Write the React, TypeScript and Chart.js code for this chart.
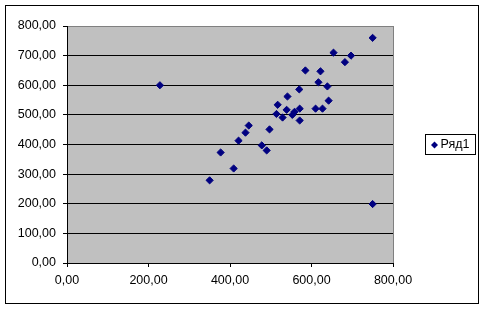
import React, { useEffect, useRef } from "react";
import { Chart, registerables } from "chart.js";
Chart.register(...registerables);

const seriesName = "Ряд1";
const xValues = [228, 750, 654, 697, 682, 585, 622, 617, 639, 570, 642, 541, 517, 539, 571, 610, 627, 514, 529, 553, 558, 571, 497, 446, 438, 421, 478, 490, 377, 409, 350, 750];
const yValues = [600, 760, 710, 700, 678, 650, 647, 610, 596, 586, 548, 562, 534, 517, 521, 521, 521, 503, 491, 500, 510, 481, 451, 464, 440, 413, 397, 380, 373, 319, 279, 199];
const xTicks = [0, 200, 400, 600, 800];
const yTicks = [0, 100, 200, 300, 400, 500, 600, 700, 800];

const fmt = (v: number) => Number(v).toFixed(2).replace(".", ",");
const FONT = "'Liberation Sans', Arial, sans-serif";
const FS = 12.5;
const MARK = "#000080";

export default function App() {
  const ref = useRef<HTMLCanvasElement>(null);
  useEffect(() => {
    if (!ref.current) return;
    const plotPlugin = {
      id: "plotBg",
      beforeDraw(chart: any) {
        const { ctx, chartArea: a } = chart;
        ctx.save();
        ctx.fillStyle = "#ffffff";
        ctx.fillRect(0, 0, chart.width, chart.height);
        ctx.fillStyle = "#C0C0C0";
        ctx.fillRect(a.left, a.top, a.right - a.left, a.bottom - a.top);
        ctx.restore();
      },
      beforeDatasetsDraw(chart: any) {
        const { ctx, chartArea: a } = chart;
        ctx.save();
        ctx.strokeStyle = "#808080";
        ctx.lineWidth = 1;
        ctx.beginPath();
        const rx = Math.round(a.right) + 0.5;
        ctx.moveTo(rx, a.top);
        ctx.lineTo(rx, a.bottom);
        ctx.stroke();
        ctx.restore();
      },
      afterDraw(chart: any) {
        const { ctx } = chart;
        ctx.save();
        ctx.strokeStyle = "#000000";
        ctx.lineWidth = 1;
        ctx.strokeRect(5.5, 5.5, 473, 298);
        // legend
        ctx.strokeRect(425.5, 134.5, 50, 20);
        ctx.fillStyle = MARK;
        const cx = 434.5, cy = 145;
        ctx.beginPath();
        ctx.moveTo(cx, cy - 3.5);
        ctx.lineTo(cx + 3.5, cy);
        ctx.lineTo(cx, cy + 3.5);
        ctx.lineTo(cx - 3.5, cy);
        ctx.closePath();
        ctx.fill();
        ctx.fillStyle = "#000000";
        ctx.font = `${FS}px ${FONT}`;
        ctx.textBaseline = "middle";
        ctx.textAlign = "left";
        ctx.fillText(seriesName, 440.5, 145);
        ctx.restore();
      },
    };
    const chart = new Chart(ref.current, {
      type: "scatter",
      data: {
        datasets: [
          {
            label: seriesName,
            data: xValues.map((x, i) => ({ x, y: yValues[i] })),
            pointStyle: "rectRot",
            pointRadius: 3.6,
            pointBackgroundColor: MARK,
            pointBorderColor: MARK,
            pointBorderWidth: 1,
          },
        ],
      },
      options: {
        animation: false,
        responsive: false,
        devicePixelRatio: 1,
        layout: { padding: { top: 26, right: 93, left: 0, bottom: 0 } },
        plugins: { legend: { display: false }, tooltip: { enabled: false } },
        scales: {
          x: {
            type: "linear",
            min: 0,
            max: 800,
            afterBuildTicks: (s: any) => {
              s.ticks = xTicks.map((v) => ({ value: v }));
            },
            afterFit: (s: any) => {
              s.height = 47;
            },
            ticks: {
              callback: (v: any) => fmt(v),
              color: "#000000",
              font: { family: FONT, size: FS },
              padding: 6,
              maxRotation: 0,
            },
            grid: {
              drawOnChartArea: false,
              drawTicks: true,
              tickLength: 4,
              tickColor: "#000000",
            },
            border: { color: "#000000", width: 1 },
          },
          y: {
            type: "linear",
            min: 0,
            max: 800,
            afterBuildTicks: (s: any) => {
              s.ticks = yTicks.map((v) => ({ value: v }));
            },
            afterFit: (s: any) => {
              s.width = 67;
            },
            ticks: {
              callback: (v: any) => fmt(v),
              color: "#000000",
              font: { family: FONT, size: FS },
              padding: 7,
            },
            grid: {
              drawOnChartArea: true,
              drawTicks: true,
              tickLength: 4,
              tickColor: "#000000",
              color: (c: any) => (c.tick && c.tick.value === 800 ? "#808080" : "#000000"),
              lineWidth: 1,
            },
            border: { color: "#000000", width: 1 },
          },
        },
      },
      plugins: [plotPlugin],
    } as any);
    return () => chart.destroy();
  }, []);
  return (
    <div style={{ position: "fixed", left: 0, top: 0, width: 486, height: 310, background: "#fff" }}>
      <canvas ref={ref} width={486} height={310} style={{ display: "block", width: 486, height: 310 }} />
    </div>
  );
}
